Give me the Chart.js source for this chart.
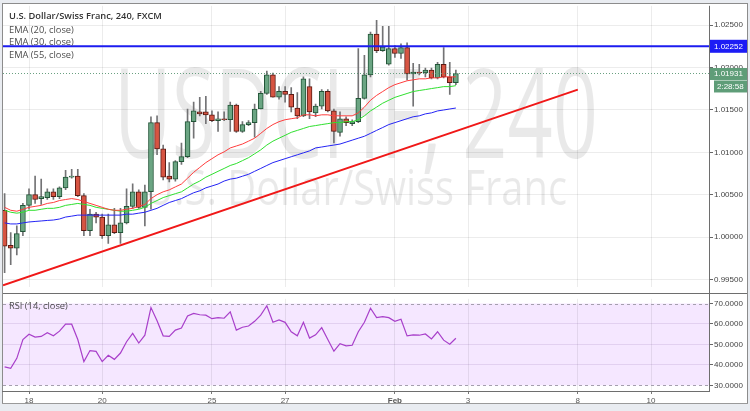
<!DOCTYPE html>
<html>
<head>
<meta charset="utf-8">
<script src="https://cdn.jsdelivr.net/npm/chart.js@4.4.1/dist/chart.umd.min.js"></script>
<style>
  html, body { margin: 0; padding: 0; background: #e9ecf1; }
  #wrap { position: relative; width: 750px; height: 411px; overflow: hidden; }
  canvas { position: absolute; left: 0; }
  #priceCanvas { top: 0; }
  #rsiCanvas { top: 293px; }
</style>
</head>
<body>
<div id="wrap">
  <canvas id="priceCanvas" width="750" height="293"></canvas>
  <canvas id="rsiCanvas" width="750" height="111"></canvas>
</div>
<script>
// USD/CHF, 240 min bars, bar 0 = first bar on screen
const opens = [
  1.00316, 0.99902, 0.99868, 1.00063, 1.00374, 1.00500, 1.00454, 1.00466, 1.00535, 1.00477,
  1.00581, 1.00707, 1.00719, 1.00489, 1.00075, 1.00270, 1.00236, 1.00017, 1.00144, 1.00052,
  1.00167, 1.00362, 1.00535, 1.00351, 1.00535, 1.01351, 1.01041, 1.00719, 1.00684, 1.00891,
  1.00949, 1.01362, 1.01477, 1.01477, 1.01443, 1.01374, 1.01397, 1.01385, 1.01558, 1.01247,
  1.01328, 1.01351, 1.01512, 1.01696, 1.01914, 1.01650, 1.01719, 1.01684, 1.01523, 1.01431,
  1.01776, 1.01466, 1.01546, 1.01719, 1.01489, 1.01236, 1.01397, 1.01339, 1.01362, 1.01638,
  1.01914, 1.02397, 1.02201, 1.02040, 1.02224, 1.02167, 1.02236, 1.01925, 1.01948, 1.01937,
  1.01971, 1.01879, 1.02040, 1.01891, 1.01822
];
const highs = [
  1.00512, 1.00052, 1.00132, 1.00397, 1.00569, 1.00719, 1.00684, 1.00569, 1.00569, 1.00592,
  1.00788, 1.00799, 1.00799, 1.00512, 1.00328, 1.00293, 1.00270, 1.00270, 1.00339, 1.00339,
  1.00569, 1.00627, 1.00558, 1.00615, 1.01420, 1.01431, 1.01087, 1.00880, 1.00903, 1.01110,
  1.01512, 1.01592, 1.01650, 1.01661, 1.01489, 1.01477, 1.01477, 1.01592, 1.01569, 1.01362,
  1.01374, 1.01569, 1.01719, 1.01960, 1.01937, 1.01776, 1.01776, 1.01764, 1.01707, 1.01891,
  1.01868, 1.01569, 1.01742, 1.01742, 1.01512, 1.01477, 1.01420, 1.01385, 1.02224, 1.02144,
  1.02420, 1.02557, 1.02489, 1.02489, 1.02259, 1.02282, 1.02293, 1.02052, 1.02040, 1.01994,
  1.01994, 1.02063, 1.02236, 1.02063, 1.01971
];
const lows = [
  0.99581, 0.99673, 0.99788, 1.00017, 1.00328, 1.00397, 1.00385, 1.00443, 1.00443, 1.00454,
  1.00558, 1.00696, 1.00477, 1.00017, 1.00017, 1.00167, 0.99983, 0.99925, 1.00040, 0.99925,
  1.00155, 1.00339, 1.00339, 1.00132, 1.00328, 1.00972, 1.00673, 1.00650, 1.00661, 1.00857,
  1.00937, 1.01167, 1.01431, 1.01339, 1.01362, 1.01247, 1.01374, 1.01247, 1.01236, 1.01236,
  1.01316, 1.01178, 1.01512, 1.01684, 1.01650, 1.01627, 1.01592, 1.01477, 1.01397, 1.01420,
  1.01397, 1.01420, 1.01512, 1.01477, 1.01110, 1.01190, 1.01316, 1.01316, 1.01351, 1.01627,
  1.01891, 1.02178, 1.02190, 1.02029, 1.02121, 1.02109, 1.01856, 1.01546, 1.01914, 1.01891,
  1.01868, 1.01868, 1.01879, 1.01684, 1.01799
];
const closes = [
  0.99891, 0.99868, 1.00040, 1.00374, 1.00500, 1.00443, 1.00477, 1.00535, 1.00477, 1.00581,
  1.00707, 1.00719, 1.00489, 1.00075, 1.00270, 1.00236, 1.00017, 1.00144, 1.00052, 1.00167,
  1.00362, 1.00535, 1.00351, 1.00535, 1.01351, 1.01041, 1.00707, 1.00684, 1.00891, 1.00949,
  1.01362, 1.01489, 1.01454, 1.01443, 1.01374, 1.01397, 1.01385, 1.01558, 1.01247, 1.01328,
  1.01351, 1.01512, 1.01696, 1.01914, 1.01650, 1.01719, 1.01684, 1.01534, 1.01431, 1.01868,
  1.01477, 1.01546, 1.01719, 1.01489, 1.01247, 1.01397, 1.01351, 1.01362, 1.01638, 1.01914,
  1.02397, 1.02201, 1.02247, 1.02224, 1.02167, 1.02236, 1.01925, 1.01948, 1.01937, 1.01971,
  1.01879, 1.02040, 1.01891, 1.01822, 1.01931
];
const ema20 = [
  1.00351, 1.00316, 1.00305, 1.00328, 1.00351, 1.00362, 1.00374, 1.00397, 1.00408, 1.00431,
  1.00443, 1.00454, 1.00443, 1.00420, 1.00397, 1.00374, 1.00351, 1.00328, 1.00316, 1.00316,
  1.00328, 1.00339, 1.00362, 1.00385, 1.00454, 1.00500, 1.00534, 1.00557, 1.00592, 1.00626,
  1.00695, 1.00764, 1.00822, 1.00879, 1.00925, 1.00971, 1.01006, 1.01052, 1.01075, 1.01098,
  1.01132, 1.01167, 1.01224, 1.01282, 1.01328, 1.01362, 1.01385, 1.01397, 1.01408, 1.01443,
  1.01443, 1.01431, 1.01443, 1.01443, 1.01431, 1.01431, 1.01431, 1.01431, 1.01466, 1.01534,
  1.01615, 1.01672, 1.01718, 1.01764, 1.01799, 1.01822, 1.01845, 1.01856, 1.01868, 1.01868,
  1.01879, 1.01879, 1.01891, 1.01891, 1.01891
];
const ema30 = [
  1.00316, 1.00293, 1.00282, 1.00293, 1.00316, 1.00316, 1.00328, 1.00339, 1.00339, 1.00351,
  1.00374, 1.00385, 1.00397, 1.00385, 1.00374, 1.00351, 1.00339, 1.00328, 1.00316, 1.00305,
  1.00305, 1.00316, 1.00328, 1.00351, 1.00397, 1.00431, 1.00466, 1.00489, 1.00512, 1.00534,
  1.00580, 1.00626, 1.00661, 1.00707, 1.00741, 1.00776, 1.00810, 1.00845, 1.00868, 1.00902,
  1.00937, 1.00983, 1.01029, 1.01086, 1.01132, 1.01167, 1.01201, 1.01236, 1.01259, 1.01282,
  1.01305, 1.01316, 1.01328, 1.01339, 1.01351, 1.01351, 1.01362, 1.01362, 1.01385, 1.01431,
  1.01489, 1.01534, 1.01580, 1.01615, 1.01649, 1.01672, 1.01695, 1.01718, 1.01730, 1.01741,
  1.01753, 1.01764, 1.01776, 1.01776, 1.01787
];
const ema55 = [
  1.00167, 1.00155, 1.00155, 1.00167, 1.00178, 1.00184, 1.00190, 1.00196, 1.00201, 1.00213,
  1.00236, 1.00247, 1.00259, 1.00259, 1.00259, 1.00259, 1.00259, 1.00259, 1.00259, 1.00259,
  1.00270, 1.00270, 1.00282, 1.00293, 1.00316, 1.00339, 1.00374, 1.00408, 1.00431, 1.00454,
  1.00489, 1.00523, 1.00546, 1.00581, 1.00603, 1.00626, 1.00661, 1.00684, 1.00695, 1.00718,
  1.00741, 1.00776, 1.00810, 1.00845, 1.00879, 1.00902, 1.00925, 1.00948, 1.00971, 1.00994,
  1.01017, 1.01052, 1.01063, 1.01075, 1.01086, 1.01098, 1.01121, 1.01144, 1.01167, 1.01190,
  1.01224, 1.01259, 1.01293, 1.01328, 1.01351, 1.01374, 1.01397, 1.01420, 1.01431, 1.01454,
  1.01466, 1.01489, 1.01500, 1.01512, 1.01523
];
const rsi14 = [
  39.0, 38.3, 43.2, 52.4, 55.0, 53.6, 53.9, 55.7, 54.2, 56.5,
  59.9, 59.9, 52.4, 41.6, 47.0, 46.6, 41.6, 44.7, 42.7, 45.8,
  51.3, 55.4, 50.7, 54.5, 68.0, 61.6, 54.2, 53.9, 57.0, 58.0,
  63.9, 65.2, 64.5, 64.3, 62.6, 63.1, 62.8, 65.9, 57.0, 58.4,
  59.0, 61.3, 64.3, 68.9, 60.8, 62.0, 60.8, 56.2, 54.2, 60.8,
  53.1, 54.7, 58.2, 52.4, 46.7, 50.4, 49.3, 49.6, 56.2, 60.8,
  67.7, 63.1, 63.6, 63.1, 61.3, 62.3, 54.2, 54.7, 54.5, 55.1,
  52.7, 56.2, 52.1, 50.1, 53.0
];
const dayTicks = [4, 16, 34, 46, 64, 76, 94, 106];
const dayLabels = ['18', '20', '25', '27', 'Feb', '3', '8', '10'];
const priceTicks = [0.995, 1.000, 1.005, 1.010, 1.015, 1.020, 1.025];
const rsiTicks = [30, 40, 50, 60, 70];
const trendLine = [[-0.26, 0.99431], [94, 1.01741]];
const resistance = 1.02252;
const lastPrice = 1.01931;
const countdown = '2:28:58';

const titleText = 'U.S. Dollar/Swiss Franc, 240, FXCM';
const studyNames = ['EMA (20, close)', 'EMA (30, close)', 'EMA (55, close)'];

const upColor = '#6ba583', downColor = '#d75442';
const upBorder = '#225437', downBorder = '#5b1a13';
const wickColor = '#737375';
const gridColor = 'rgba(0,0,0,0.075)';
const axisFont = { family: 'Liberation Sans, Arial, sans-serif', size: 8 };
const isUp = closes.map((c, i) => c >= opens[i]);

const xMin = -0.264, xMax = 115.51;

function xScale(extra) {
  return Object.assign({
    type: 'linear', min: xMin, max: xMax, offset: false,
    afterBuildTicks: s => { s.ticks = dayTicks.map(v => ({ value: v })); },
    border: { display: false }
  }, extra);
}

function frameLine(ctx, x1, y1, x2, y2, color) {
  ctx.strokeStyle = color;
  ctx.lineWidth = 1;
  ctx.setLineDash([]);
  ctx.beginPath();
  ctx.moveTo(x1, y1);
  ctx.lineTo(x2, y2);
  ctx.stroke();
}

function fitText(ctx, text, cx, baseY, size, width) {
  ctx.font = size + 'px "Open Sans"';
  const w = ctx.measureText(text).width;
  ctx.save();
  ctx.translate(cx, baseY);
  ctx.scale(width / w, 1);
  ctx.fillText(text, 0, 0);
  ctx.restore();
}

const pricePanel = {
  id: 'pricePanel',
  beforeDraw(chart) {
    const ctx = chart.ctx;
    ctx.save();
    ctx.fillStyle = '#ffffff';
    ctx.fillRect(2, 3, 746, 290);
    ctx.restore();
  },
  beforeDatasetsDraw(chart) {
    const { ctx, chartArea: a } = chart;
    const cx = (a.left + a.right) / 2;
    ctx.save();
    ctx.fillStyle = 'rgba(0,0,0,0.085)';
    ctx.textAlign = 'center';
    ctx.textBaseline = 'alphabetic';
    fitText(ctx, 'USDCHF, 240', cx, 158, 124, 484);
    fitText(ctx, 'U.S. Dollar/Swiss Franc', cx, 205, 50, 422);
    ctx.restore();
  },
  afterDatasetsDraw(chart) {
    const { ctx, chartArea: a, scales: { y } } = chart;
    ctx.save();
    const yl = y.getPixelForValue(lastPrice);
    ctx.strokeStyle = 'rgba(90,150,115,0.9)';
    ctx.lineWidth = 1;
    ctx.setLineDash([1, 2]);
    ctx.beginPath();
    ctx.moveTo(a.left, Math.round(yl) + 0.5);
    ctx.lineTo(a.right, Math.round(yl) + 0.5);
    ctx.stroke();
    const yr = y.getPixelForValue(resistance);
    ctx.setLineDash([]);
    ctx.strokeStyle = '#1c1cf0';
    ctx.lineWidth = 2;
    ctx.beginPath();
    ctx.moveTo(a.left, yr);
    ctx.lineTo(a.right, yr);
    ctx.stroke();
    ctx.restore();
  },
  afterDraw(chart) {
    const { ctx, chartArea: a, scales: { y } } = chart;
    ctx.save();
    // legend
    ctx.textBaseline = 'middle';
    ctx.textAlign = 'left';
    ctx.fillStyle = '#333333';
    ctx.font = '600 9.3px "Open Sans"';
    ctx.fillText(titleText, 9, 16.5);
    ctx.fillStyle = '#4d4d4d';
    ctx.font = '9.3px "Open Sans"';
    studyNames.forEach((t, k) => ctx.fillText(t, 9, 30.5 + k * 12.3));
    // price labels on the axis
    ctx.font = '8px "Liberation Sans", Arial, sans-serif';
    const yr = y.getPixelForValue(resistance);
    ctx.fillStyle = '#1c1cf5';
    ctx.fillRect(a.right, yr - 6.5, 38, 13);
    ctx.fillStyle = '#ffffff';
    ctx.fillText(resistance.toFixed(5), a.right + 5, yr + 0.5);
    const yl = y.getPixelForValue(lastPrice);
    ctx.fillStyle = '#5f9d78';
    ctx.fillRect(a.right, yl - 5.5, 38, 12);
    ctx.fillRect(a.right + 5, yl + 7, 33, 12);
    ctx.fillStyle = '#ffffff';
    ctx.fillText(lastPrice.toFixed(5), a.right + 5, yl + 0.5);
    ctx.fillText(countdown, a.right + 8, yl + 13.5);
    // frame
    frameLine(ctx, 2, 3.5, 748, 3.5, '#8c8c8c');
    frameLine(ctx, 2.5, 3, 2.5, 293, '#8c8c8c');
    frameLine(ctx, 747.5, 3, 747.5, 293, '#8c8c8c');
    frameLine(ctx, a.right + 0.5, a.top, a.right + 0.5, 293, '#6e6e6e');
    ctx.restore();
  }
};

const rsiPanel = {
  id: 'rsiPanel',
  beforeDraw(chart) {
    const { ctx, chartArea: a, scales: { y } } = chart;
    ctx.save();
    ctx.fillStyle = '#ffffff';
    ctx.fillRect(2, 0, 746, 111);
    const y70 = y.getPixelForValue(70), y30 = y.getPixelForValue(30);
    ctx.fillStyle = 'rgba(153,21,255,0.1)';
    ctx.fillRect(a.left, y70, a.right - a.left, y30 - y70);
    ctx.restore();
  },
  beforeDatasetsDraw(chart) {
    const { ctx, chartArea: a, scales: { y } } = chart;
    ctx.save();
    ctx.strokeStyle = '#a59fae';
    ctx.lineWidth = 1;
    ctx.setLineDash([3, 3]);
    [70, 30].forEach(v => {
      const py = Math.round(y.getPixelForValue(v)) + 0.5;
      ctx.beginPath();
      ctx.moveTo(a.left, py);
      ctx.lineTo(a.right, py);
      ctx.stroke();
    });
    ctx.restore();
  },
  afterDraw(chart) {
    const { ctx, chartArea: a } = chart;
    ctx.save();
    ctx.textBaseline = 'middle';
    ctx.fillStyle = '#4d4d4d';
    ctx.font = '9.3px "Open Sans"';
    ctx.fillText('RSI (14, close)', 9, 13);
    frameLine(ctx, 2, 0.5, 748, 0.5, '#6e6e6e');
    frameLine(ctx, 2.5, 0, 2.5, 111, '#8c8c8c');
    frameLine(ctx, 747.5, 0, 747.5, 111, '#8c8c8c');
    frameLine(ctx, a.right + 0.5, 0, a.right + 0.5, a.bottom, '#6e6e6e');
    frameLine(ctx, 2, a.bottom + 0.5, a.right + 1, a.bottom + 0.5, '#6e6e6e');
    frameLine(ctx, 2, 110.5, 748, 110.5, '#9a9a9a');
    ctx.restore();
  }
};

const common = {
  responsive: false,
  animation: false,
  events: [],
  devicePixelRatio: 1,
  plugins: { legend: { display: false }, tooltip: { enabled: false } }
};

new Chart(document.getElementById('priceCanvas'), {
  type: 'bar',
  data: {
    datasets: [
      {
        type: 'line', data: trendLine.map(([x, y]) => ({ x, y })),
        borderColor: '#f01818', borderWidth: 2, pointRadius: 0, order: 0
      },
      {
        type: 'line', data: ema20.map((v, i) => ({ x: i, y: v })),
        borderColor: '#ff3d3d', borderWidth: 1, pointRadius: 0, order: 1
      },
      {
        type: 'line', data: ema30.map((v, i) => ({ x: i, y: v })),
        borderColor: '#2fe02f', borderWidth: 1, pointRadius: 0, order: 2
      },
      {
        type: 'line', data: ema55.map((v, i) => ({ x: i, y: v })),
        borderColor: '#2424f5', borderWidth: 1, pointRadius: 0, order: 3
      },
      {
        type: 'bar',
        data: opens.map((o, i) => ({ x: i, y: [Math.min(o, closes[i]), Math.max(o, closes[i])] })),
        backgroundColor: isUp.map(u => u ? upColor : downColor),
        borderColor: isUp.map(u => u ? upBorder : downBorder),
        borderWidth: 1, borderSkipped: false, barThickness: 5, minBarLength: 1,
        grouped: false, order: 4
      },
      {
        type: 'bar',
        data: highs.map((h, i) => ({ x: i, y: [lows[i], h] })),
        backgroundColor: wickColor, barThickness: 1, grouped: false, order: 5
      }
    ]
  },
  options: Object.assign({}, common, {
    layout: { padding: { left: 3, top: 4, right: 0, bottom: 0 }, autoPadding: false },
    scales: {
      x: xScale({
        ticks: { display: false },
        grid: { color: gridColor, offset: false, drawTicks: false },
        afterFit: s => { s.height = 0; }
      }),
      y: {
        type: 'linear', position: 'right', min: 0.99408, max: 1.0273,
        afterBuildTicks: s => { s.ticks = priceTicks.map(v => ({ value: v })); },
        afterFit: s => { s.width = 41; },
        ticks: { callback: v => Number(v).toFixed(5), color: '#444', font: axisFont, padding: 1 },
        grid: { color: gridColor, tickColor: '#666', tickLength: 4 },
        border: { display: false }
      }
    }
  }),
  plugins: [pricePanel]
});

const febTick = dayTicks[dayLabels.indexOf('Feb')];

new Chart(document.getElementById('rsiCanvas'), {
  type: 'line',
  data: {
    datasets: [{
      data: rsi14.map((v, i) => ({ x: i, y: v })),
      borderColor: '#a83fca', borderWidth: 1.2, pointRadius: 0
    }]
  },
  options: Object.assign({}, common, {
    layout: { padding: { left: 3, top: 0, right: 0, bottom: 0 }, autoPadding: false },
    scales: {
      x: xScale({
        ticks: {
          autoSkip: false, maxRotation: 0, padding: 2, color: '#555',
          callback: v => dayLabels[dayTicks.indexOf(v)],
          font: c => Object.assign({}, axisFont, { weight: c.tick && c.tick.value === febTick ? 'bold' : 'normal' })
        },
        grid: { color: gridColor, offset: false, tickLength: 3, tickColor: '#777' },
        afterFit: s => { s.height = 13; }
      }),
      y: {
        type: 'linear', position: 'right', min: 27.24, max: 72.3,
        afterBuildTicks: s => { s.ticks = rsiTicks.map(v => ({ value: v })); },
        afterFit: s => { s.width = 41; },
        ticks: { callback: v => Number(v).toFixed(4), color: '#444', font: axisFont, padding: 1 },
        grid: {
          color: c => (c.tick && (c.tick.value === 30 || c.tick.value === 70)) ? 'rgba(0,0,0,0)' : 'rgba(110,70,150,0.14)',
          tickColor: '#666', tickLength: 4
        },
        border: { display: false }
      }
    }
  }),
  plugins: [rsiPanel]
});
</script>
</body>
</html>
